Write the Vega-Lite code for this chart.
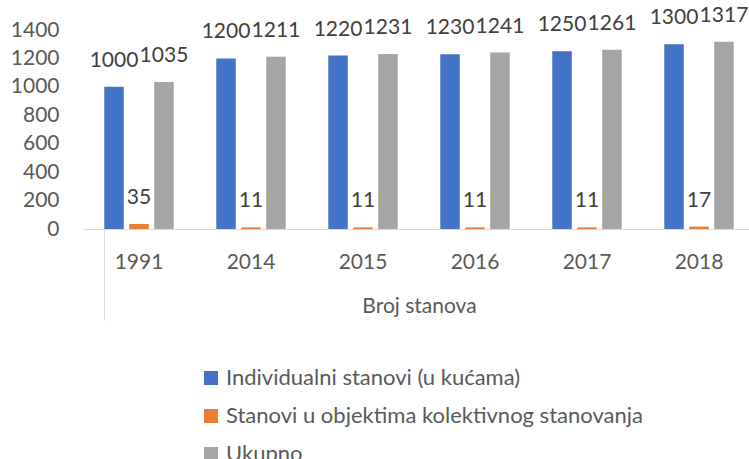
{
  "$schema": "https://vega.github.io/schema/vega-lite/v6.json",
  "width": 672,
  "height": 199,
  "autosize": {"type": "none"},
  "padding": {"left": 83, "top": 30, "right": 0, "bottom": 230},
  "background": "white",
  "config": {"view": {"stroke": null}, "font": "Lato"},
  "data": {
    "values": [
      {"year": "1991", "series": "Individualni stanovi (u kućama)", "value": 1000},
      {"year": "1991", "series": "Stanovi u objektima kolektivnog stanovanja", "value": 35},
      {"year": "1991", "series": "Ukupno", "value": 1035},
      {"year": "2014", "series": "Individualni stanovi (u kućama)", "value": 1200},
      {"year": "2014", "series": "Stanovi u objektima kolektivnog stanovanja", "value": 11},
      {"year": "2014", "series": "Ukupno", "value": 1211},
      {"year": "2015", "series": "Individualni stanovi (u kućama)", "value": 1220},
      {"year": "2015", "series": "Stanovi u objektima kolektivnog stanovanja", "value": 11},
      {"year": "2015", "series": "Ukupno", "value": 1231},
      {"year": "2016", "series": "Individualni stanovi (u kućama)", "value": 1230},
      {"year": "2016", "series": "Stanovi u objektima kolektivnog stanovanja", "value": 11},
      {"year": "2016", "series": "Ukupno", "value": 1241},
      {"year": "2017", "series": "Individualni stanovi (u kućama)", "value": 1250},
      {"year": "2017", "series": "Stanovi u objektima kolektivnog stanovanja", "value": 11},
      {"year": "2017", "series": "Ukupno", "value": 1261},
      {"year": "2018", "series": "Individualni stanovi (u kućama)", "value": 1300},
      {"year": "2018", "series": "Stanovi u objektima kolektivnog stanovanja", "value": 17},
      {"year": "2018", "series": "Ukupno", "value": 1317}
    ]
  },
  "encoding": {
    "x": {
      "field": "year",
      "type": "nominal",
      "scale": {"paddingInner": 0.38, "paddingOuter": 0.19},
      "axis": {
        "title": "Broj stanova",
        "titleFontSize": 21,
        "titleFontWeight": "normal",
        "titleColor": "#595959",
        "titleY": 77,
        "titleBaseline": "middle",
        "labelAngle": 0,
        "labelFontSize": 21,
        "labelColor": "#595959",
        "labelBaseline": "middle",
        "labelPadding": -58,
        "domainColor": "#d9d9d9",
        "domainWidth": 1,
        "tickSize": 91,
        "tickWidth": 1,
        "bandPosition": 0,
        "tickColor": {"condition": {"test": "datum.value === '1991'", "value": "#d9d9d9"}, "value": "rgba(0,0,0,0)"}
      }
    },
    "xOffset": {
      "field": "series",
      "type": "nominal",
      "scale": {
        "domain": ["Individualni stanovi (u kućama)", "Stanovi u objektima kolektivnog stanovanja", "Ukupno"],
        "paddingInner": 0.22,
        "paddingOuter": 0
      }
    },
    "y": {
      "field": "value",
      "type": "quantitative",
      "scale": {"domain": [0, 1400], "nice": false},
      "axis": {
        "values": [0, 200, 400, 600, 800, 1000, 1200, 1400],
        "format": "d",
        "domain": false,
        "ticks": false,
        "grid": false,
        "labelFontSize": 21,
        "labelColor": "#595959",
        "labelPadding": 24,
        "title": null
      }
    }
  },
  "layer": [
    {
      "mark": {"type": "bar"},
      "encoding": {
        "color": {
          "field": "series",
          "type": "nominal",
          "scale": {
            "domain": ["Individualni stanovi (u kućama)", "Stanovi u objektima kolektivnog stanovanja", "Ukupno"],
            "range": ["#4472C4", "#ED7D31", "#A5A5A5"]
          },
          "legend": {
            "orient": "none",
            "legendX": 117,
            "legendY": 337,
            "direction": "vertical",
            "title": null,
            "symbolType": "square",
            "symbolSize": 196,
            "symbolStrokeWidth": 0,
            "labelFontSize": 22,
            "labelColor": "#595959",
            "labelOffset": 4,
            "rowPadding": 16,
            "labelLimit": 0
          }
        }
      }
    },
    {
      "mark": {"type": "text", "dy": -26, "baseline": "middle", "fontSize": 21, "color": "#404040"},
      "encoding": {"text": {"field": "value", "type": "quantitative", "format": "d"}}
    }
  ]
}
